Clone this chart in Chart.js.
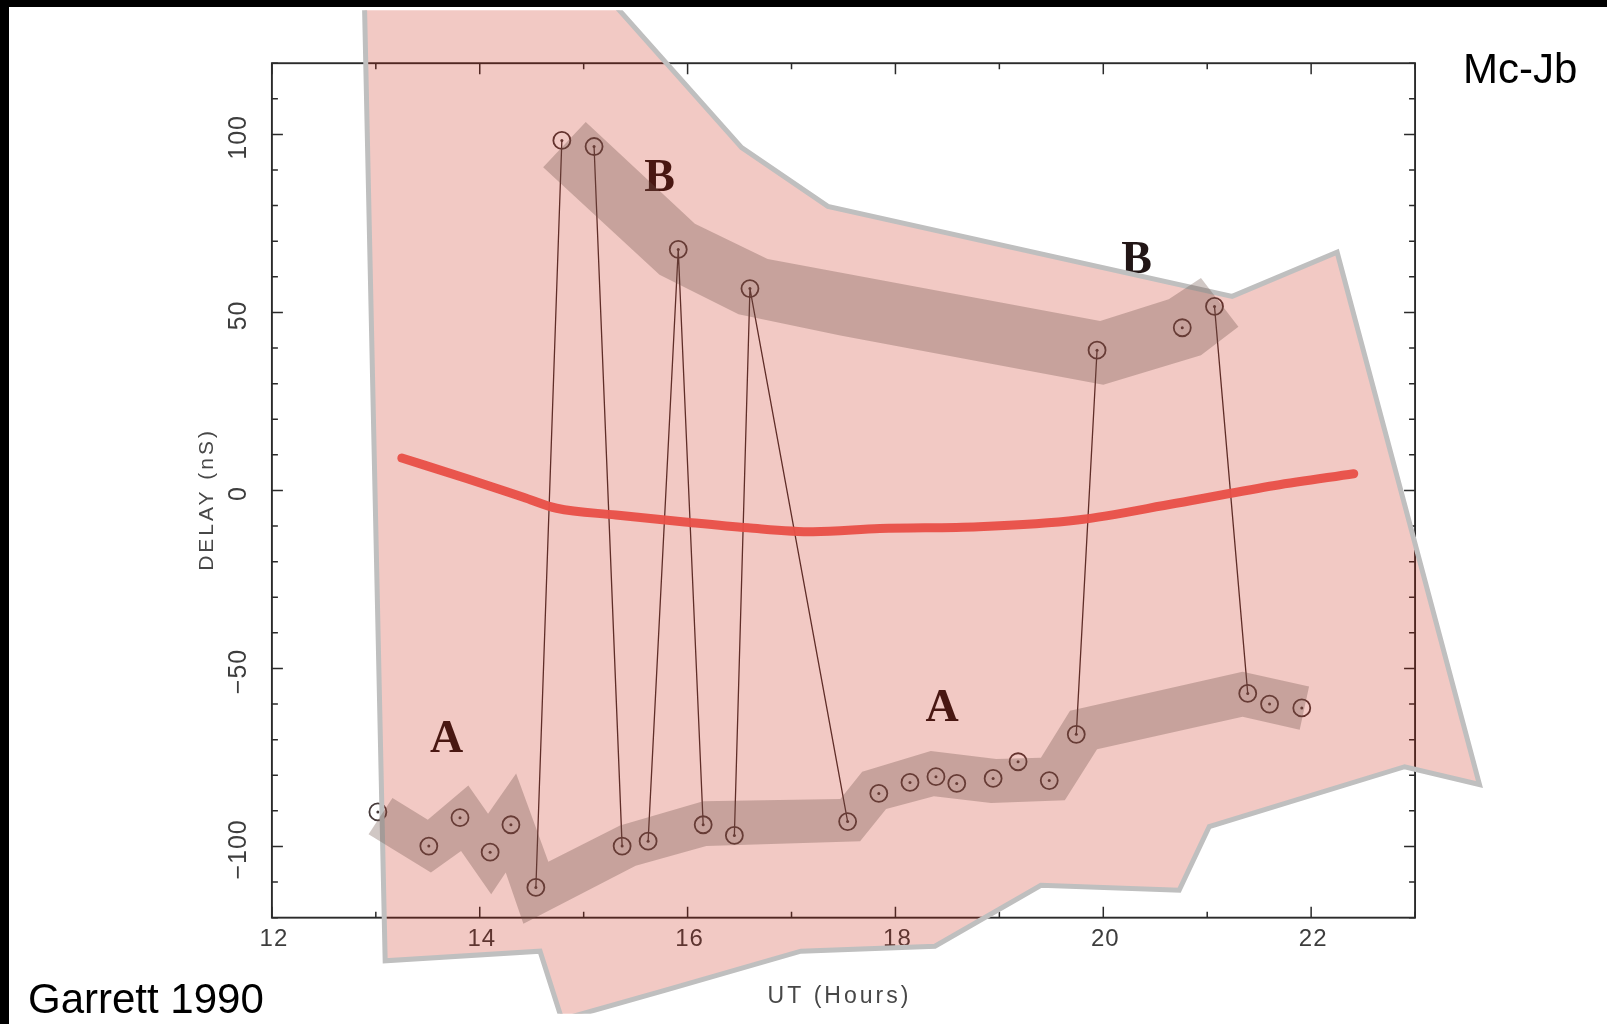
<!DOCTYPE html>
<html>
<head>
<meta charset="utf-8">
<script src="https://cdn.jsdelivr.net/npm/chart.js@4.4.1/dist/chart.umd.min.js"></script>
<style>
  html, body { margin: 0; padding: 0; background: #000; }
  canvas { display: block; }
</style>
</head>
<body>
<canvas id="delayChart" width="1607" height="1024"></canvas>
<script>
// delay measurements (UT hours, nS), in time order
const ut    = [13.02, 13.51, 13.81, 14.10, 14.30, 14.54, 14.79, 15.10, 15.37, 15.62, 15.91, 16.15, 16.45, 16.60, 17.54,
               17.84, 18.14, 18.39, 18.59, 18.94, 19.18, 19.48, 19.74, 19.94, 20.76, 21.07, 21.39, 21.60, 21.91];
const delay = [-90.3, -99.9, -91.9, -101.6, -93.9, -111.5, 98.3, 96.6, -99.9, -98.5, 67.7, -93.9, -96.9, 56.7, -93.0,
               -85.1, -82.0, -80.4, -82.3, -80.9, -76.2, -81.5, -68.5, 39.4, 45.7, 51.7, -57.0, -60.0, -61.1];
// pairs of points joined by the thin line (jumps between A and B)
const jumps = [[5, 6], [7, 8], [9, 10], [10, 11], [12, 13], [13, 14], [22, 23], [25, 26]];

// red hand-drawn curve
const redUt    = [13.25, 13.88, 14.42, 14.74, 15.31, 15.95, 16.58, 17.21, 17.85, 18.80, 19.75, 20.70, 21.65, 22.41];
const redDelay = [9.1, 3.3, -1.9, -5.0, -6.9, -8.8, -10.5, -11.6, -10.7, -10.2, -8.3, -3.6, 1.4, 4.7];

// pink overlay outline
const pinkUt    = [12.89, 15.26, 16.52, 17.35, 21.24, 22.25, 23.62, 22.90, 21.02, 20.73, 19.40, 18.38, 17.09, 15.78, 14.79, 14.58, 13.09, 12.89];
const pinkDelay = [137.6, 137.6, 96.3, 79.8, 54.5, 66.9, -82.6, -77.6, -94.4, -112.3, -110.9, -128.0, -129.4, -140.4, -148.6, -129.4, -132.1, 137.6];

// shaded tracks
const bandBUt    = [14.61, 15.02, 16.07, 16.77, 19.97, 20.63, 20.94, 21.30, 20.94, 20.00, 17.47, 16.49, 15.73];
const bandBDelay = [90.8, 103.5, 74.9, 65.0, 47.6, 53.7, 59.7, 46.0, 38.0, 29.7, 43.5, 49.5, 60.6];
const bandAUt    = [12.93, 13.16, 13.50, 13.89, 14.08, 14.35, 14.66, 15.35, 16.15, 17.47, 17.68, 18.34, 18.97, 19.40, 19.68, 21.34, 21.98,
                    21.89, 21.34, 19.94, 19.63, 18.92, 18.37, 17.91, 17.66, 16.18, 15.50, 14.42, 14.25, 14.11, 13.82, 13.53];
const bandADelay = [-96.6, -86.4, -92.5, -82.9, -90.8, -79.5, -104.3, -94.1, -87.3, -86.7, -79.0, -73.2, -75.4, -75.1, -61.9, -50.9, -55.1,
                    -67.2, -63.6, -72.7, -87.0, -87.8, -85.9, -89.5, -98.5, -99.9, -105.4, -121.7, -107.3, -113.4, -101.3, -107.3];

// track letters
const letters     = ['B', 'B', 'A', 'A'];
const letterUt    = [15.73, 20.32, 13.68, 18.45];
const letterDelay = [87.5, 64.4, -70.2, -61.4];

// axes
const xTicks = [12, 13, 14, 15, 16, 17, 18, 19, 20, 21, 22, 23];
const xLabelVals = [12, 14, 16, 18, 20, 22];
const xLabels = ['12', '14', '16', '18', '20', '22'];
const yTicks = [];
for (let v = -120; v <= 120; v += 10) yTicks.push(v);
const yLabelVals = [100, 50, 0, -50, -100];
const yLabels = ['100', '50', '0', '\u221250', '\u2212100'];

function xy(us, ds) {
    return us.map((u, i) => ({x: u, y: ds[i]}));
}

let pts = xy(ut, delay);
let jumpPts = [];
jumps.forEach(([a, b]) => {
    jumpPts.push(pts[a], pts[b], {x: (ut[a] + ut[b]) / 2, y: null});
});

// frame of the scanned plot inside the page; the chart area is the whole page
const frame = {left: 265, right: 1423, top: 54, bottom: 926};
const W = 1607, H = 1024;
const pxX = (frame.right - frame.left) / (23 - 12);
const pxY = (frame.bottom - frame.top) / 240;

const paper = {
    id: 'paper',
    beforeDraw(chart) {
        let ctx = chart.ctx;
        ctx.save();
        ctx.fillStyle = '#000';
        ctx.fillRect(0, 0, chart.width, chart.height);
        ctx.fillStyle = '#fff';
        ctx.fillRect(9, 7, chart.width - 9, chart.height - 7);
        ctx.restore();
    },
    beforeDatasetsDraw(chart) {
        let ctx = chart.ctx;
        let x = chart.scales.x, y = chart.scales.y;
        let L = x.getPixelForValue(12), R = x.getPixelForValue(23);
        let T = y.getPixelForValue(120), B = y.getPixelForValue(-120);
        ctx.save();
        ctx.strokeStyle = '#2b2b2b';
        ctx.lineWidth = 1.9;
        ctx.strokeRect(L, T, R - L, B - T);
        ctx.lineWidth = 1.5;
        ctx.beginPath();
        xTicks.forEach(v => {
            let px = x.getPixelForValue(v);
            let len = v % 2 === 0 ? 11 : 6;
            ctx.moveTo(px, B); ctx.lineTo(px, B - len);
            ctx.moveTo(px, T); ctx.lineTo(px, T + len);
        });
        yTicks.forEach(v => {
            let py = y.getPixelForValue(v);
            let len = v % 50 === 0 ? 11 : 6;
            ctx.moveTo(L, py); ctx.lineTo(L + len, py);
            ctx.moveTo(R, py); ctx.lineTo(R - len, py);
        });
        ctx.stroke();

        ctx.fillStyle = '#3d3d3d';
        ctx.textAlign = 'center';
        ctx.textBaseline = 'middle';
        ctx.font = '24px "Liberation Sans", Arial, sans-serif';
        ctx.letterSpacing = '1px';
        xLabels.forEach((t, i) => ctx.fillText(t, x.getPixelForValue(xLabelVals[i]) + 2, B + 22));
        ctx.font = '25px "Liberation Sans", Arial, sans-serif';
        yLabels.forEach((t, i) => {
            ctx.save();
            ctx.translate(L - 33, y.getPixelForValue(yLabelVals[i]) + 3);
            ctx.rotate(-Math.PI / 2);
            ctx.fillText(t, 0, 0);
            ctx.restore();
        });
        // axis titles
        ctx.fillStyle = '#474747';
        ctx.font = '21px "Liberation Sans", Arial, sans-serif';
        ctx.letterSpacing = '3px';
        ctx.save();
        ctx.translate(L - 65, (T + B) / 2 + 9);
        ctx.rotate(-Math.PI / 2);
        ctx.fillText('DELAY (nS)', 0, 0);
        ctx.restore();
        ctx.font = '23px "Liberation Sans", Arial, sans-serif';
        ctx.fillText('UT (Hours)', (L + R) / 2 - 4, B + 79);
        ctx.letterSpacing = '0px';

        // track letters
        ctx.fillStyle = '#221616';
        ctx.font = 'bold 46px "Liberation Serif", "DejaVu Serif", serif';
        letters.forEach((t, i) => ctx.fillText(t, x.getPixelForValue(letterUt[i]), y.getPixelForValue(letterDelay[i])));
        ctx.restore();
    },
    afterDraw(chart) {
        let ctx = chart.ctx;
        ctx.save();
        ctx.fillStyle = '#000';
        ctx.font = '42px "Liberation Sans", Arial, sans-serif';
        ctx.textBaseline = 'alphabetic';
        ctx.textAlign = 'left';
        ctx.fillText('Mc-Jb', 1463, 83);
        ctx.fillText('Garrett 1990', 28, 1013);
        ctx.restore();
    }
};

let crt = document.getElementById('delayChart');
let chart = new Chart(crt, {
    type: 'line',
    data: {
        datasets: [{
            label: 'jumps',
            data: jumpPts,
            borderColor: '#3f3232',
            borderWidth: 1.3,
            pointRadius: 0,
            spanGaps: false,
            fill: false,
            order: 6
        }, {
            label: 'delay',
            data: pts,
            showLine: false,
            pointRadius: 8.5,
            pointBorderWidth: 1.8,
            pointBorderColor: '#463a3a',
            pointBackgroundColor: 'rgba(0,0,0,0)',
            order: 5
        }, {
            label: 'centres',
            data: pts,
            showLine: false,
            pointRadius: 1.5,
            pointBorderWidth: 0,
            pointBackgroundColor: '#463a3a',
            order: 5
        }, {
            label: 'overlay',
            data: xy(pinkUt, pinkDelay),
            fill: 'shape',
            backgroundColor: 'rgba(200,30,10,0.24)',
            borderColor: '#bfbfbf',
            borderWidth: 5,
            borderJoinStyle: 'miter',
            pointRadius: 0,
            order: 4
        }, {
            label: 'track B',
            data: xy(bandBUt, bandBDelay),
            fill: 'shape',
            backgroundColor: 'rgba(110,80,72,0.32)',
            borderWidth: 0,
            pointRadius: 0,
            order: 3
        }, {
            label: 'track A',
            data: xy(bandAUt, bandADelay),
            fill: 'shape',
            backgroundColor: 'rgba(110,80,72,0.32)',
            borderWidth: 0,
            pointRadius: 0,
            order: 3
        }, {
            label: 'fit',
            data: xy(redUt, redDelay),
            borderColor: 'rgba(232,80,72,0.96)',
            borderWidth: 9,
            borderCapStyle: 'round',
            cubicInterpolationMode: 'monotone',
            pointRadius: 0,
            fill: false,
            order: 1
        }]
    },
    options: {
        responsive: false,
        animation: false,
        events: [],
        layout: {padding: 0},
        plugins: {legend: {display: false}, tooltip: {enabled: false}},
        scales: {
            x: {
                type: 'linear', display: false,
                min: 12 - frame.left / pxX,
                max: 23 + (W - frame.right) / pxX
            },
            y: {
                type: 'linear', display: false,
                min: -120 - (H - frame.bottom) / pxY,
                max: 120 + frame.top / pxY
            }
        }
    },
    plugins: [paper]
});
</script>
</body>
</html>
